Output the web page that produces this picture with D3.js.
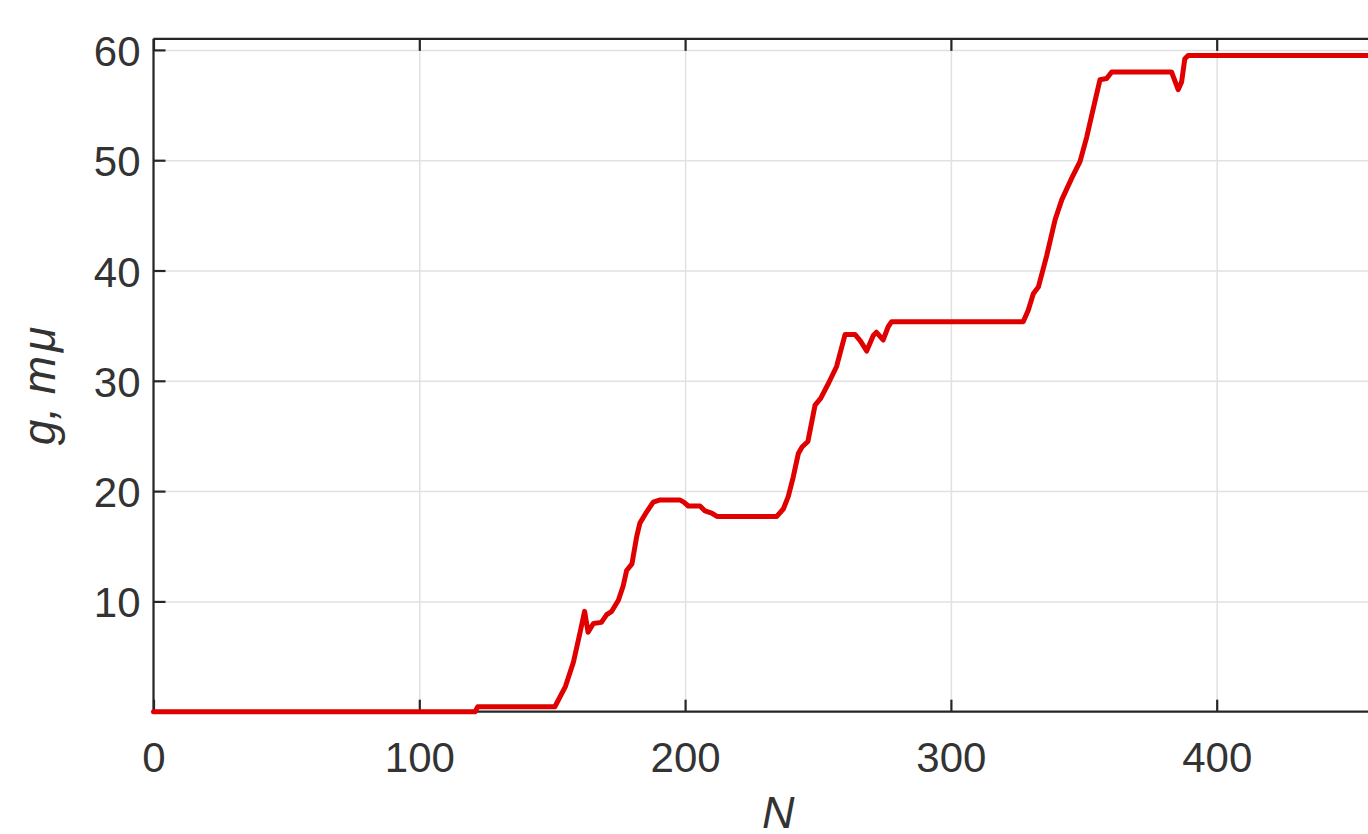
<!DOCTYPE html>
<html>
<head>
<meta charset="utf-8">
<script src="https://cdn.jsdelivr.net/npm/d3@7"></script>
<style>
  html, body { margin: 0; padding: 0; background: #ffffff; overflow: hidden; }
  svg { display: block; }
  text { font-family: "Liberation Sans", Arial, Helvetica, sans-serif; fill: #333333; }
</style>
</head>
<body>
<svg id="chart" width="1368" height="834"></svg>
<script>
// Iteration number N and accumulated g (mμ)
const stepN = [0, 121, 122, 151, 155, 158, 160.5, 162.2, 163.5, 165.5, 168.5, 170.5, 172.4, 174.9, 176.7,
  178, 180, 181.8, 183, 185.5, 188, 190.6, 198, 199.5, 201.2, 205.6, 207.5, 210, 212, 234.5,
  237, 238.8, 240.7, 242.6, 244, 246.2, 248.9, 251, 254, 257, 260.2, 263.9, 266, 268.3, 270.8,
  272, 274.5, 276.4, 277.7, 327.2, 329.1, 331, 332.9, 336, 339.2, 341.7, 345.5, 348.6, 351.1,
  353, 356.1, 358.6, 360.5, 383, 385.5, 386.8, 388, 389.3, 470];
const gValue = [0, 0, 0.45, 0.45, 2.3, 4.5, 7.2, 9.1, 7.2, 8.0, 8.1, 8.8, 9.1, 10.1, 11.4,
  12.8, 13.4, 15.9, 17.1, 18.1, 19.0, 19.2, 19.2, 19.0, 18.65, 18.65, 18.2, 18.0, 17.7, 17.7,
  18.4, 19.5, 21.3, 23.4, 24.0, 24.5, 27.8, 28.4, 29.8, 31.3, 34.2, 34.2, 33.6, 32.7, 34.1,
  34.4, 33.7, 34.9, 35.36, 35.36, 36.4, 37.9, 38.5, 41.3, 44.6, 46.4, 48.4, 49.9, 52.1,
  54.1, 57.3, 57.4, 58.0, 58.0, 56.4, 57.1, 59.2, 59.5, 59.5];

const xTicks = [0, 100, 200, 300, 400];
const yTicks = [10, 20, 30, 40, 50, 60];
const xDomain = [0, 470];
const yDomain = [0, 61];

const svg = d3.select("#chart");
const plotLeft = 153.5, plotBottom = 711.7;
const plotW = 470 * 2.658, plotH = 61 * 11.03;
const plotTop = plotBottom - plotH, plotRight = plotLeft + plotW;

const x = d3.scaleLinear().domain(xDomain).range([plotLeft, plotRight]);
const y = d3.scaleLinear().domain(yDomain).range([plotBottom, plotTop]);

const axisColor = "#262626";
const labelColor = "#333333";
const gridColor = "#e1e1e1";

// grid
svg.append("g")
  .attr("transform", `translate(0,${plotBottom})`)
  .call(d3.axisBottom(x).tickValues(xTicks).tickSize(-plotH).tickFormat(""))
  .call(g => g.select(".domain").remove())
  .call(g => g.selectAll("line").attr("stroke", gridColor).attr("stroke-width", 1.5));
svg.append("g")
  .attr("transform", `translate(${plotLeft},0)`)
  .call(d3.axisLeft(y).tickValues(yTicks).tickSize(-plotW).tickFormat(""))
  .call(g => g.select(".domain").remove())
  .call(g => g.selectAll("line").attr("stroke", gridColor).attr("stroke-width", 1.5));

// box
const box = svg.append("g").attr("stroke", axisColor).attr("stroke-width", 2.2).attr("fill", "none");
box.append("line").attr("x1", plotLeft).attr("x2", plotRight).attr("y1", plotBottom).attr("y2", plotBottom);
box.append("line").attr("x1", plotLeft).attr("x2", plotRight).attr("y1", plotTop).attr("y2", plotTop);
box.append("line").attr("x1", plotLeft).attr("x2", plotLeft).attr("y1", plotTop).attr("y2", plotBottom);
box.append("line").attr("x1", plotRight).attr("x2", plotRight).attr("y1", plotTop).attr("y2", plotBottom);

// x axis (inward ticks)
const xAxis = svg.append("g")
  .attr("transform", `translate(0,${plotBottom})`)
  .call(d3.axisBottom(x).tickValues(xTicks).tickSizeInner(-12).tickSizeOuter(0).tickPadding(30.5))
  .call(g => g.select(".domain").remove());
xAxis.selectAll("line").attr("stroke", axisColor).attr("stroke-width", 2.2);
xAxis.selectAll("text").attr("font-size", 42).attr("fill", labelColor)
  .attr("font-family", "'Liberation Sans', Arial, sans-serif");

// top ticks
svg.append("g")
  .attr("transform", `translate(0,${plotTop})`)
  .call(d3.axisTop(x).tickValues(xTicks).tickSizeInner(-12).tickSizeOuter(0).tickFormat(""))
  .call(g => g.select(".domain").remove())
  .call(g => g.selectAll("line").attr("stroke", axisColor).attr("stroke-width", 2.2));

// y axis
const yAxis = svg.append("g")
  .attr("transform", `translate(${plotLeft},0)`)
  .call(d3.axisLeft(y).tickValues(yTicks).tickSizeInner(-12).tickSizeOuter(0).tickPadding(13))
  .call(g => g.select(".domain").remove());
yAxis.selectAll("line").attr("stroke", axisColor).attr("stroke-width", 2.2);
yAxis.selectAll("text").attr("font-size", 42).attr("fill", labelColor).attr("dy", "0.37em")
  .attr("font-family", "'Liberation Sans', Arial, sans-serif");

// data line
const pts = stepN.map((n, i) => [n, gValue[i]]);
svg.append("path")
  .datum(pts)
  .attr("fill", "none")
  .attr("stroke", "#e00000")
  .attr("stroke-width", 5)
  .attr("stroke-linejoin", "round")
  .attr("stroke-linecap", "round")
  .attr("d", d3.line().x(d => x(d[0])).y(d => y(d[1])));

// axis titles
svg.append("text")
  .attr("x", (plotLeft + plotRight) / 2)
  .attr("y", 828)
  .attr("text-anchor", "middle")
  .attr("font-size", 45)
  .attr("font-style", "italic")
  .attr("fill", labelColor)
  .text("N");

const yt = svg.append("text")
  .attr("transform", "translate(55,386) rotate(-90)")
  .attr("text-anchor", "middle")
  .attr("font-size", 46)
  .attr("font-style", "italic")
  .attr("fill", labelColor);
yt.append("tspan").text("g, m");
yt.append("tspan").attr("dx", 4).text("μ");
</script>
</body>
</html>
